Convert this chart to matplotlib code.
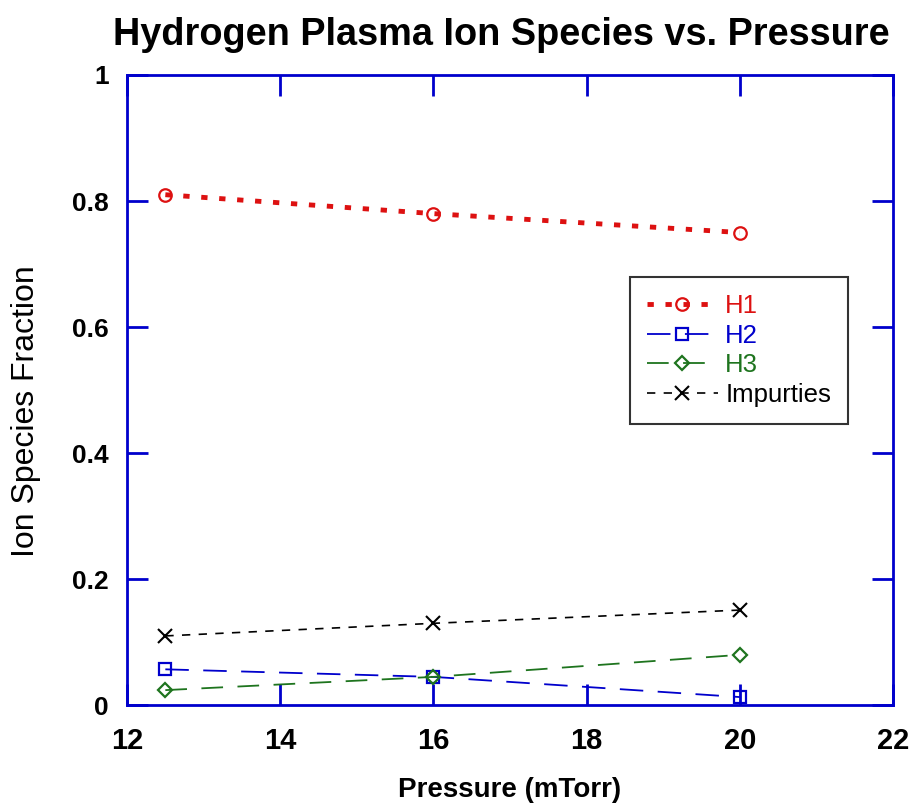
import matplotlib as mpl
mpl.use('Agg')
import matplotlib.pyplot as plt

plt.rcParams['font.family'] = ['Liberation Sans', 'DejaVu Sans']

pressure = [12.5, 16, 20]
h1 = [0.81, 0.78, 0.75]
h2 = [0.057, 0.045, 0.013]
h3 = [0.024, 0.045, 0.080]
impurities = [0.110, 0.130, 0.151]
xticks = [12, 14, 16, 18, 20, 22]
yticks = [0, 0.2, 0.4, 0.6, 0.8, 1]
yticklabels = ['0', '0.2', '0.4', '0.6', '0.8', '1']

fig = plt.figure(figsize=(9.14, 8.06), dpi=100)
ax = fig.add_axes([0.139, 0.125, 0.838, 0.782])

red = '#dd1111'
blue = '#0000cc'
green = '#1e741e'

ax.plot(pressure, h1, color=red, linestyle=(0, (1.3, 2.4)), linewidth=3.5,
        marker='o', markersize=9, markerfacecolor='none', markeredgewidth=1.6, label='H1')
ax.plot(pressure, h2, color=blue, linestyle=(0, (13, 8)), linewidth=1.3,
        marker='s', markersize=9, markerfacecolor='none', markeredgewidth=1.6, label='H2')
ax.plot(pressure, h3, color=green, linestyle=(0, (12, 8)), linewidth=1.3,
        marker='D', markersize=7, markerfacecolor='none', markeredgewidth=1.6, label='H3')
ax.plot(pressure, impurities, color='black', linestyle=(0, (5, 5)), linewidth=1.2,
        marker='x', markersize=10, markeredgewidth=1.5, label='Impurties')

ax.set_xlim(12, 22)
ax.set_ylim(0, 1)
ax.set_xticks(xticks)
ax.set_yticks(yticks)
ax.set_yticklabels(yticklabels)

for s in ax.spines.values():
    s.set_color(blue)
    s.set_linewidth(2)
ax.tick_params(direction='in', length=15, width=2, color=blue, top=True, right=True)
ax.tick_params(axis='x', pad=16, labelsize=21)
ax.tick_params(axis='y', pad=13, labelsize=19)
for lab in ax.get_xticklabels() + ax.get_yticklabels():
    lab.set_fontweight('bold')

ax.set_xlabel('Pressure (mTorr)', fontsize=20, fontweight='bold', va='center')
ax.xaxis.set_label_coords(0.5, -0.135)
ax.set_ylabel('Ion Species Fraction', fontsize=23, va='center')
ax.yaxis.set_label_coords(-0.132, 0.467)
fig.text(0.548, 0.956, 'Hydrogen Plasma Ion Species vs. Pressure', fontsize=27.3,
         fontweight='bold', ha='center', va='center')

leg = ax.legend(loc='upper left', bbox_to_anchor=(0.657, 0.679), borderaxespad=0,
                fontsize=18.5, frameon=True, fancybox=False, edgecolor='black',
                handlelength=2.75, borderpad=0.65, labelspacing=0.22, handletextpad=0.3)
leg.get_frame().set_linewidth(1.5)
for t, c in zip(leg.get_texts(), [red, blue, green, 'black']):
    t.set_color(c)

plt.savefig('out.png', dpi=100)
